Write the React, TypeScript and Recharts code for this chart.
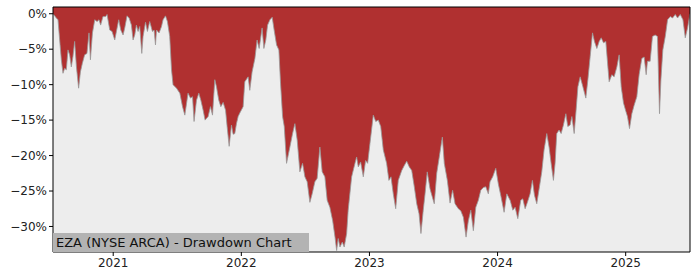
import { AreaChart, Area, XAxis, YAxis, ReferenceArea } from "recharts";

// decimal year of each observation
const dates = [
  2020.53, 2020.556, 2020.569, 2020.582, 2020.595, 2020.608, 2020.621, 2020.634, 2020.647, 2020.66,
  2020.673, 2020.686, 2020.699, 2020.713, 2020.73, 2020.744, 2020.759, 2020.777, 2020.795, 2020.811,
  2020.822, 2020.838, 2020.856, 2020.874, 2020.889, 2020.902, 2020.92, 2020.941, 2020.952, 2020.973,
  2020.991, 2021.012, 2021.025, 2021.043, 2021.059, 2021.077, 2021.09, 2021.108, 2021.124, 2021.142,
  2021.155, 2021.168, 2021.181, 2021.194, 2021.207, 2021.223, 2021.233, 2021.252, 2021.267, 2021.285,
  2021.306, 2021.319, 2021.33, 2021.338, 2021.358, 2021.377, 2021.389, 2021.408, 2021.423, 2021.441,
  2021.455, 2021.467, 2021.494, 2021.52, 2021.541, 2021.559, 2021.584, 2021.603, 2021.619, 2021.631,
  2021.65, 2021.668, 2021.684, 2021.702, 2021.717, 2021.741, 2021.759, 2021.775, 2021.793, 2021.806,
  2021.824, 2021.84, 2021.858, 2021.877, 2021.889, 2021.905, 2021.923, 2021.936, 2021.949, 2021.962,
  2021.975, 2021.988, 2022.014, 2022.027, 2022.053, 2022.066, 2022.084, 2022.106, 2022.123, 2022.139,
  2022.162, 2022.176, 2022.191, 2022.205, 2022.223, 2022.241, 2022.256, 2022.275, 2022.293, 2022.306,
  2022.322, 2022.335, 2022.353, 2022.379, 2022.4, 2022.418, 2022.436, 2022.457, 2022.478, 2022.496,
  2022.514, 2022.535, 2022.553, 2022.574, 2022.592, 2022.613, 2022.631, 2022.652, 2022.67, 2022.691,
  2022.713, 2022.731, 2022.744, 2022.756, 2022.77, 2022.788, 2022.803, 2022.822, 2022.834, 2022.861,
  2022.887, 2022.9, 2022.913, 2022.931, 2022.952, 2022.97, 2022.986, 2023.004, 2023.03, 2023.049,
  2023.069, 2023.088, 2023.108, 2023.134, 2023.152, 2023.168, 2023.186, 2023.205, 2023.225, 2023.252,
  2023.272, 2023.291, 2023.311, 2023.33, 2023.35, 2023.369, 2023.387, 2023.402, 2023.42, 2023.434,
  2023.451, 2023.473, 2023.49, 2023.506, 2023.525, 2023.545, 2023.569, 2023.584, 2023.608, 2023.629,
  2023.649, 2023.668, 2023.694, 2023.713, 2023.733, 2023.754, 2023.772, 2023.791, 2023.811, 2023.83,
  2023.85, 2023.869, 2023.889, 2023.908, 2023.928, 2023.941, 2023.962, 2023.986, 2024.006, 2024.027,
  2024.051, 2024.072, 2024.098, 2024.119, 2024.137, 2024.158, 2024.181, 2024.197, 2024.215, 2024.233,
  2024.254, 2024.272, 2024.288, 2024.306, 2024.327, 2024.345, 2024.363, 2024.384, 2024.402, 2024.418,
  2024.436, 2024.449, 2024.462, 2024.48, 2024.496, 2024.514, 2024.533, 2024.548, 2024.566, 2024.58,
  2024.598, 2024.613, 2024.627, 2024.645, 2024.666, 2024.689, 2024.705, 2024.723, 2024.741, 2024.756,
  2024.775, 2024.793, 2024.809, 2024.827, 2024.845, 2024.861, 2024.871, 2024.892, 2024.91, 2024.931,
  2024.949, 2024.965, 2024.983, 2025.002, 2025.014, 2025.03, 2025.048, 2025.066, 2025.087, 2025.105,
  2025.126, 2025.144, 2025.16, 2025.17, 2025.191, 2025.209, 2025.23, 2025.248, 2025.264, 2025.275,
  2025.29, 2025.309, 2025.327, 2025.348, 2025.366, 2025.387, 2025.405, 2025.426, 2025.447, 2025.465,
  2025.483, 2025.502,
];

// drawdown from running peak, percent
const drawdown = [
  0, -0.6, -0.85, -3.7, -6.5, -8.4, -7.7, -7.9, -5.1, -5.8,
  -7.5, -6.0, -3.9, -7.5, -10.5, -8.2, -7.0, -5.8, -5.6, -2.7,
  -6.5, -2.7, -0.85, -1.1, -0.85, -1.6, -0.4, -0.4, -0.1, -2.3,
  -2.5, -3.7, -2.5, -0.85, -2.3, -3.0, -2.0, -0.3, -0.6, -1.6,
  -3.7, -3.0, -1.6, -2.5, -1.8, -5.6, -3.2, -1.2, -2.5, -1.1,
  -2.5, -2.3, -4.4, -2.3, -2.7, -1.8, -0.85, -0.3, -1.1, -3.2,
  -7.9, -10.0, -10.5, -11.2, -13.1, -14.3, -11.2, -11.9, -11.7, -15.2,
  -12.2, -11.2, -12.2, -13.6, -15.0, -14.5, -13.1, -14.3, -9.3, -10.3,
  -12.2, -13.1, -12.5, -13.6, -15.9, -18.7, -15.7, -17.0, -16.9, -15.5,
  -14.5, -14.0, -13.1, -9.6, -8.9, -10.8, -8.2, -6.3, -3.7, -4.9,
  -2.0, -4.9, -3.7, -1.6, -0.85, -0.5, -2.3, -4.4, -5.1, -9.8,
  -14.5, -15.9, -21.1, -18.8, -16.9, -15.5, -17.8, -22.3, -21.1, -23.0,
  -23.7, -26.6, -25.4, -23.7, -23.2, -18.8, -22.3, -23.0, -26.3, -27.3,
  -29.2, -31.5, -33.4, -31.7, -32.9, -32.2, -32.9, -31.0, -27.7, -23.0,
  -21.1, -20.2, -21.6, -20.9, -23.0, -20.7, -21.1, -18.3, -14.3, -15.2,
  -15.0, -15.9, -19.2, -21.1, -23.5, -23.0, -25.4, -27.5, -23.5, -22.1,
  -21.4, -20.8, -21.6, -22.1, -24.4, -26.8, -28.2, -31.0, -27.7, -25.4,
  -22.3, -24.7, -25.8, -26.8, -22.5, -20.2, -17.4, -21.1, -23.5, -26.7,
  -24.9, -26.8, -27.5, -27.8, -28.7, -31.5, -29.2, -27.7, -30.6, -27.3,
  -26.3, -24.9, -24.5, -24.4, -25.4, -23.7, -23.0, -21.8, -24.0, -25.8,
  -28.0, -25.4, -26.3, -27.7, -27.3, -28.9, -26.3, -26.1, -27.5, -26.6,
  -25.4, -23.5, -25.6, -26.8, -24.4, -22.3, -19.2, -16.9, -18.8, -21.1,
  -23.5, -21.1, -16.9, -16.4, -16.9, -15.7, -14.1, -15.9, -15.7, -14.5,
  -16.9, -13.6, -10.3, -8.9, -10.3, -11.9, -9.3, -6.0, -2.7, -3.9,
  -4.9, -3.9, -3.4, -4.1, -3.9, -7.5, -9.6, -8.6, -8.9, -7.5,
  -5.8, -10.3, -12.6, -13.8, -14.5, -16.2, -14.1, -12.9, -11.7, -8.6,
  -6.3, -6.1, -8.6, -6.7, -6.7, -3.2, -3.0, -3.2, -14.1, -9.3,
  -5.1, -3.2, -0.85, -0.4, -0.6, -0.1, -0.6, -0.1, -0.85, -3.4,
  -2.0, 0,
];

const yearTicks = [2021, 2022, 2023, 2024, 2025];
const pctTicks = [0, -5, -10, -15, -20, -25, -30];

const X_MIN = 2020.53;
const X_MAX = 2025.502;
const Y_MIN = -33.6;
const Y_MAX = 0.95;

const data = dates.map((t, i) => ({ t, dd: drawdown[i] }));

const fmtPct = (v: number) => (v < 0 ? `\u2212${Math.abs(v)}%` : `${v}%`);

const tickStyle = { fontFamily: "DejaVu Sans", fontSize: 12, fill: "#222" };

export default function App() {
  return (
    <div style={{ position: "absolute", left: 0, top: 0, width: 700, height: 280, background: "#fff" }}>
      <AreaChart width={700} height={280} data={data} margin={{ top: 7, right: 10, bottom: 0, left: 0 }}>
        <ReferenceArea x1={X_MIN} x2={X_MAX} y1={Y_MIN} y2={Y_MAX} fill="#ededed" fillOpacity={1} stroke="none" />
        <XAxis
          dataKey="t"
          type="number"
          domain={[X_MIN, X_MAX]}
          ticks={yearTicks}
          allowDataOverflow
          height={28}
          tick={tickStyle}
          tickLine={{ stroke: "#000" }}
          axisLine={false}
          tickSize={4}
        />
        <YAxis
          type="number"
          domain={[Y_MIN, Y_MAX]}
          ticks={pctTicks}
          allowDataOverflow
          width={53}
          tick={tickStyle}
          tickFormatter={fmtPct}
          tickLine={{ stroke: "#000" }}
          axisLine={false}
          tickSize={4}
        />
        <Area
          type="linear"
          dataKey="dd"
          baseValue={Y_MAX}
          fill="#b03030"
          fillOpacity={1}
          stroke="#999"
          strokeWidth={0.8}
          isAnimationActive={false}
          dot={false}
          activeDot={false}
        />
        <ReferenceArea x1={X_MIN} x2={X_MAX} y1={Y_MIN} y2={Y_MAX} fill="none" stroke="#000" strokeWidth={1} />
      </AreaChart>
      <div
        style={{
          position: "absolute",
          left: 53,
          top: 233,
          width: 256,
          height: 19,
          background: "#b3b3b3",
          fontFamily: "DejaVu Sans",
          fontSize: 13,
          lineHeight: "19px",
          color: "#111",
          paddingLeft: 3,
          boxSizing: "border-box",
          whiteSpace: "nowrap",
        }}
      >
        EZA (NYSE ARCA) - Drawdown Chart
      </div>
    </div>
  );
}
